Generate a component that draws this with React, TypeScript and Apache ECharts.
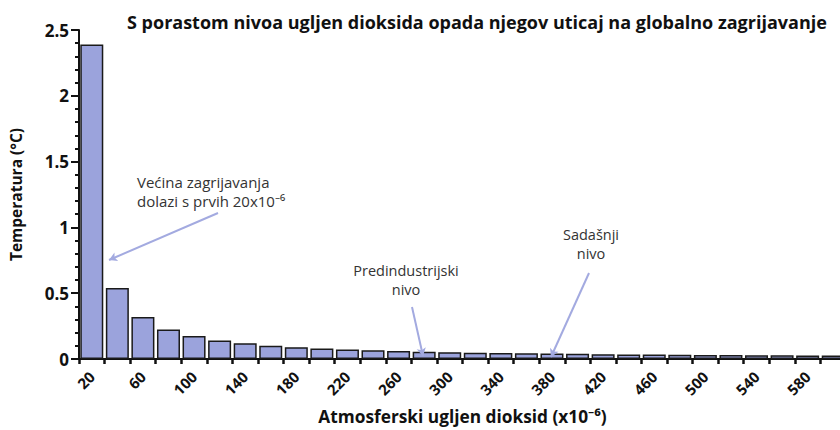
import React, { useEffect, useRef } from "react";
import * as echarts from "echarts";

const categories = ["20","40","60","80","100","120","140","160","180","200","220","240","260","280","300","320","340","360","380","400","420","440","460","480","500","520","540","560","580","600"];
const temps = [2.39,0.54,0.32,0.225,0.175,0.14,0.12,0.1,0.09,0.08,0.072,0.066,0.06,0.055,0.052,0.048,0.046,0.043,0.041,0.039,0.037,0.035,0.034,0.032,0.031,0.03,0.029,0.028,0.027,0.026];
const titleText = "S porastom nivoa ugljen dioksida opada njegov uticaj na globalno zagrijavanje";
const xName = "Atmosferski ugljen dioksid (x10\u207B\u2076)";
const yName = "Temperatura (\u00B0C)";
const note1 = "Većina zagrijavanja\ndolazi s prvih 20x10\u207B\u2076";
const note2 = "Predindustrijski\nnivo";
const note3 = "Sadašnji\nnivo";

const FONT = "'Open Sans', 'Noto Sans', sans-serif";
const ARROW = "#a3aae0";

export default function App() {
  const ref = useRef<HTMLDivElement>(null);
  useEffect(() => {
    const chart = echarts.init(ref.current!, null, { renderer: "svg" });
    chart.setOption({
      animation: false,
      backgroundColor: "#ffffff",
      textStyle: { fontFamily: FONT },
      title: {
        text: titleText,
        left: 122,
        top: 8,
        textStyle: { fontFamily: FONT, fontWeight: "bold", fontSize: 18, color: "#111" },
      },
      grid: { left: 78, right: 0, top: 30, bottom: 63 },
      xAxis: {
        type: "category",
        data: categories,
        name: xName,
        nameLocation: "middle",
        nameGap: 49,
        nameTextStyle: { fontFamily: FONT, fontWeight: "bold", fontSize: 17.3, color: "#111" },
        axisLine: { show: true, lineStyle: { color: "#111", width: 2 } },
        axisTick: { show: true, interval: 0, length: 5, lineStyle: { color: "#111", width: 2.5 } },
        axisLabel: { interval: 1, rotate: 45, fontFamily: FONT, fontWeight: "bold", fontSize: 15, color: "#111", margin: 15 },
      },
      yAxis: {
        type: "value",
        min: 0,
        max: 2.5,
        interval: 0.5,
        name: yName,
        nameLocation: "middle",
        nameGap: 55,
        nameTextStyle: { fontFamily: FONT, fontWeight: "bold", fontSize: 15.5, color: "#111" },
        axisLine: { show: true, lineStyle: { color: "#111", width: 2 } },
        axisTick: { show: true, length: 8, lineStyle: { color: "#111", width: 2 } },
        minorTick: { show: true, splitNumber: 5, length: 4, lineStyle: { color: "#111", width: 2 } },
        splitLine: { show: false },
        axisLabel: { fontFamily: FONT, fontWeight: "bold", fontSize: 17, color: "#111", margin: 10 },
      },
      series: [
        {
          type: "bar",
          data: temps,
          barCategoryGap: "10%",
          itemStyle: { color: "#9ba3dc", borderColor: "#1a1a1a", borderWidth: 1.5 },
          markLine: {
            silent: true,
            symbol: ["none", "arrow"],
            symbolSize: [7, 8],
            label: { show: false },
            lineStyle: { color: ARROW, width: 2, type: "solid" },
            data: [
              [{ x: 218, y: 213 }, { x: 109, y: 260 }],
              [{ x: 412, y: 307 }, { x: 423, y: 356 }],
              [{ x: 589, y: 273 }, { x: 551, y: 357 }],
            ],
          },
        },
      ],
      graphic: [
        { type: "text", left: 137, top: 172, style: { text: note1, fontFamily: FONT, fontSize: 15, lineHeight: 19, fill: "#333" } },
        { type: "text", x: 406, y: 261, style: { text: note2, fontFamily: FONT, fontSize: 14.5, lineHeight: 19, fill: "#333", align: "center" } },
        { type: "text", x: 591, y: 225, style: { text: note3, fontFamily: FONT, fontSize: 14.5, lineHeight: 19, fill: "#333", align: "center" } },
      ],
    });
    return () => chart.dispose();
  }, []);
  return <div ref={ref} style={{ position: "fixed", left: 0, top: 0, width: 846, height: 430 }} />;
}
